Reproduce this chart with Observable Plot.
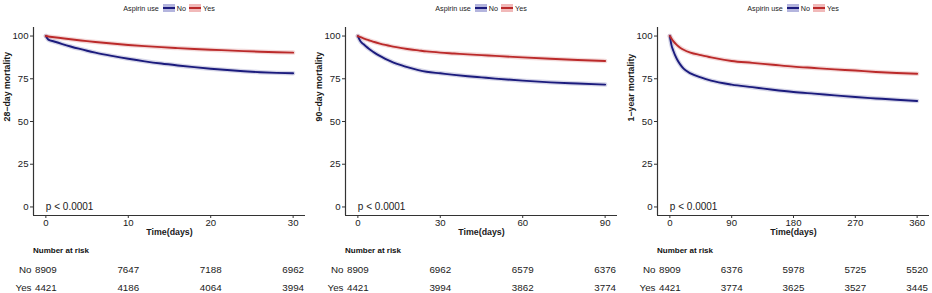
<!DOCTYPE html>
<html><head><meta charset="utf-8">
<script src="https://cdn.jsdelivr.net/npm/d3@7"></script>
<script src="https://cdn.jsdelivr.net/npm/@observablehq/plot@0.6"></script>
<style>
body{margin:0;background:#fff;font-family:"Liberation Sans",Arial,sans-serif;}
#root{position:relative;width:932px;height:293px;overflow:hidden;background:#fff;}
.panel{position:absolute;top:0;width:308px;height:293px;}
.legend{position:absolute;top:2px;left:33px;width:272px;height:12px;display:flex;justify-content:center;align-items:center;font-size:7.2px;color:#222;white-space:nowrap;}
.key{display:inline-block;width:12px;height:8px;margin:0 2px 0 3px;position:relative;}
.key::after{content:"";position:absolute;left:0;right:0;top:3px;height:2px;background:var(--c);}
.main{position:absolute;top:14px;left:0;}
.nar{position:absolute;top:246px;left:33px;font-size:8px;font-weight:bold;line-height:10px;color:#111;white-space:nowrap;}
.risk{position:absolute;top:242px;left:0;}
</style></head><body><div id="root"></div>
<script>
// ---- data ----
const groups = ["No", "Yes"];
const groupColors = ["#1b1b7d", "#bb2a2a"];
const groupFills = ["#b4b5de", "#f1b9b9"];
const legendTitle = "Aspirin use";
const xTitle = "Time(days)";
const yTitles = ["28\u2212day mortality", "90\u2212day mortality", "1\u2212year mortality"];
const pValue = "p < 0.0001";
const riskTitle = "Number at risk";
const yTicks = [0, 25, 50, 75, 100];

const xMax = [30, 90, 360];
const xTicks28 = [0, 10, 20, 30];
const xTicks90 = [0, 30, 60, 90];
const xTicks360 = [0, 90, 180, 270, 360];

const times28 = [0, 0.3, 1, 2, 3, 4, 5, 6, 8, 10, 12, 14, 16, 18, 20, 22, 24, 26, 28, 30];
const no28 = [100, 97.9, 96.8, 95.3, 93.9, 92.6, 91.4, 90.3, 88.4, 86.7, 85.2, 83.9, 82.8, 81.8, 80.9, 80.1, 79.4, 78.85, 78.45, 78.2];
const yes28 = [100, 99.7, 99.3, 98.7, 98.1, 97.55, 97.0, 96.5, 95.6, 94.8, 94.1, 93.5, 92.95, 92.45, 92.0, 91.6, 91.2, 90.85, 90.55, 90.3];

const times90 = [0, 1, 2, 3, 4, 5, 6, 8, 10, 12, 14, 16, 18, 20, 22, 25, 30, 35, 40, 45, 50, 60, 70, 80, 90];
const no90 = [100, 96.8, 95.3, 93.9, 92.6, 91.4, 90.3, 88.4, 86.7, 85.2, 83.9, 82.8, 81.8, 80.9, 80.1, 79.1, 78.2, 77.3, 76.5, 75.8, 75.1, 73.9, 72.9, 72.2, 71.6];
const yes90 = [100, 99.3, 98.7, 98.1, 97.55, 97.0, 96.5, 95.6, 94.8, 94.1, 93.5, 92.95, 92.45, 92.0, 91.6, 91.0, 90.3, 89.8, 89.3, 88.85, 88.4, 87.5, 86.7, 86.0, 85.4];

const times360 = [0, 2, 5, 10, 15, 20, 30, 45, 60, 90, 120, 150, 180, 210, 240, 270, 300, 330, 360];
const no360 = [100, 95.3, 91.4, 86.7, 83.4, 80.9, 78.2, 75.8, 73.9, 71.6, 70.1, 68.6, 67.3, 66.3, 65.3, 64.3, 63.5, 62.7, 62.0];
const yes360 = [100, 98.7, 97.0, 94.8, 93.2, 92.0, 90.3, 88.85, 87.5, 85.4, 84.3, 83.2, 82.1, 81.3, 80.5, 79.8, 79.0, 78.4, 77.9];

const risk28No = [8909, 7647, 7188, 6962];
const risk28Yes = [4421, 4186, 4064, 3994];
const risk90No = [8909, 6962, 6579, 6376];
const risk90Yes = [4421, 3994, 3862, 3774];
const risk360No = [8909, 6376, 5978, 5725, 5520];
const risk360Yes = [4421, 3774, 3625, 3527, 3445];

const panels = [
  {xMax: xMax[0], ticks: xTicks28, times: times28, series: [no28, yes28], risk: [risk28No, risk28Yes], yTitle: yTitles[0]},
  {xMax: xMax[1], ticks: xTicks90, times: times90, series: [no90, yes90], risk: [risk90No, risk90Yes], yTitle: yTitles[1]},
  {xMax: xMax[2], ticks: xTicks360, times: times360, series: [no360, yes360], risk: [risk360No, risk360Yes], yTitle: yTitles[2]}
];

const root = document.getElementById("root");
const FONT = "'Liberation Sans', Arial, sans-serif";
const ink = "#1a1a1a";

panels.forEach((p, i) => {
  const panel = document.createElement("div");
  panel.className = "panel";
  panel.style.left = (312 * i) + "px";
  root.appendChild(panel);

  // legend
  const leg = document.createElement("div");
  leg.className = "legend";
  let html = `<span style="margin-right:1px">${legendTitle}</span>`;
  groups.forEach((g, k) => {
    html += `<span class="key" style="background:${groupFills[k]};--c:${groupColors[k]}"></span><span>${g}</span>`;
  });
  leg.innerHTML = html;
  panel.appendChild(leg);

  const pad = p.xMax * 0.05;
  const xDomain = [-pad, p.xMax + pad];
  const yDomain = [-5, 105];

  const data = [];
  groups.forEach((g, k) => p.times.forEach((t, j) => data.push({g, t, s: p.series[k][j]})));

  const main = Plot.plot({
    width: 308, height: 226,
    marginTop: 13, marginBottom: 25, marginLeft: 33, marginRight: 3,
    style: {fontFamily: FONT, color: ink, background: "transparent", overflow: "visible"},
    x: {domain: xDomain, label: null},
    y: {domain: yDomain, label: null},
    color: {domain: groups, range: groupColors},
    marks: [
      Plot.axisX({ticks: p.ticks, tickSize: 3, tickPadding: 1, fontSize: 9.6, label: null, tickFormat: d => String(d), stroke: "#333"}),
      Plot.axisY({ticks: yTicks, tickSize: 3, tickPadding: 2, fontSize: 9.6, label: null, tickFormat: d => String(d), stroke: "#333"}),
      Plot.ruleX([xDomain[0]], {stroke: "#333", strokeWidth: 1.2}),
      Plot.ruleY([yDomain[0]], {stroke: "#333", strokeWidth: 1.2}),
      Plot.line(data, {x: "t", y: "s", z: "g", stroke: "g", strokeWidth: 4.5, strokeOpacity: 0.18, curve: "monotone-x"}),
      Plot.line(data, {x: "t", y: "s", z: "g", stroke: "g", strokeWidth: 1.9, curve: "monotone-x"}),
      Plot.text([pValue], {x: () => 0, y: () => 0, text: d => d, textAnchor: "start", fontSize: 10, fill: ink}),
      Plot.text([xTitle], {frameAnchor: "bottom", dy: 19, text: d => d, fontSize: 8.8, fontWeight: "bold", fill: ink}),
      Plot.text([p.yTitle], {frameAnchor: "left", dx: -26.5, rotate: -90, text: d => d, fontSize: 8.8, fontWeight: "bold", fill: ink})
    ]
  });
  main.classList.add("main");
  panel.appendChild(main);

  const nar = document.createElement("div");
  nar.className = "nar";
  nar.textContent = riskTitle;
  panel.appendChild(nar);

  const riskRows = [];
  groups.forEach((g, k) => p.ticks.forEach((t, j) => riskRows.push({g, t, n: String(p.risk[k][j])})));

  const risk = Plot.plot({
    width: 308, height: 54,
    marginTop: 18, marginBottom: 0, marginLeft: 33, marginRight: 3,
    style: {fontFamily: FONT, color: ink, background: "transparent", overflow: "visible"},
    x: {domain: xDomain, axis: null},
    y: {domain: groups, type: "band", padding: 0},
    marks: [
      Plot.axisY({tickSize: 0, tickPadding: 2, fontSize: 9.8, label: null}),
      Plot.text(riskRows, {x: "t", y: "g", text: "n", fontSize: 9.8, fill: ink})
    ]
  });
  risk.classList.add("risk");
  panel.appendChild(risk);
});
</script></body></html>
